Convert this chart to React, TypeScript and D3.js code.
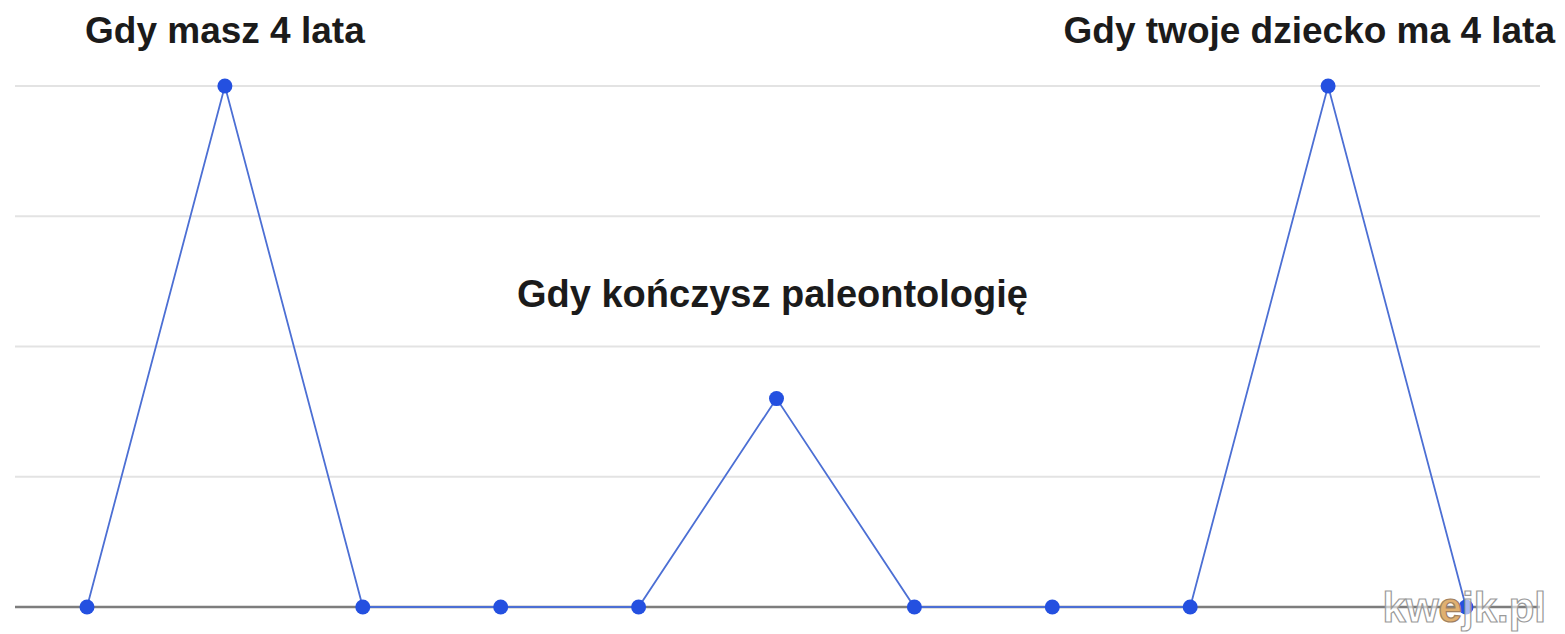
import React from 'react';
import * as d3 from 'd3';

// data
const stages = ['s0', 's1', 's2', 's3', 's4', 's5', 's6', 's7', 's8', 's9', 's10'];
const excitement = [0, 4, 0, 0, 0, 1.6, 0, 0, 0, 4, 0];
const gridTicks = [1, 2, 3, 4];
const noteTexts = ['Gdy masz 4 lata', 'Gdy kończysz paleontologię', 'Gdy twoje dziecko ma 4 lata'];
const noteStage = [1, 5, 9];
const noteLevel = [4.33, 2.3, 4.33];

const width = 1565;
const height = 634;

export default function App() {
  // scales
  const x = d3
    .scalePoint()
    .domain(stages)
    .range([87, 1466]);
  const y = d3.scaleLinear().domain([0, 4]).range([607, 86]);

  const points = stages.map((s, i) => [x(s) as number, y(excitement[i])] as [number, number]);
  const line = d3.line();

  const font = '"Liberation Sans", Arial, Helvetica, sans-serif';

  return (
    <svg
      width={width}
      height={height}
      style={{ position: 'absolute', left: 0, top: 0, background: '#fff' }}
    >
      {/* grid */}
      {gridTicks.map((t) => (
        <line key={t} x1={15} x2={1540} y1={y(t)} y2={y(t)} stroke="#e3e3e3" strokeWidth={2} />
      ))}
      <line x1={15} x2={1540} y1={y(0)} y2={y(0)} stroke="#7d7d7d" strokeWidth={2.5} />

      {/* the series */}
      <path d={line(points) || ''} fill="none" stroke="#4c6fd4" strokeWidth={1.8} />
      {points.map((p, i) => (
        <circle key={i} cx={p[0]} cy={p[1]} r={7.5} fill="#2450e0" />
      ))}

      {/* annotations */}
      {noteTexts.map((txt, i) => {
        const last = i === noteTexts.length - 1;
        return (
          <text
            key={txt}
            x={last ? 1555 : (x(stages[noteStage[i]]) as number) - (i === 1 ? 4 : 0)}
            y={y(noteLevel[i])}
            textAnchor={last ? 'end' : 'middle'}
            fontFamily={font}
            fontWeight="bold"
            fontSize={i === 1 ? 38 : 37}
            fill="#1b1b1b"
          >
            {txt}
          </text>
        );
      })}

      {/* watermark */}
      <text
        x={1546}
        y={622}
        textAnchor="end"
        fontFamily={font}
        fontWeight="bold"
        fontSize={42}
        fill="rgba(255,255,255,0.6)"
        stroke="#9a9a9a"
        strokeWidth={1.2}
      >
        kw<tspan fill="#e0b070" stroke="#a08060">e</tspan>jk.pl
      </text>
    </svg>
  );
}
